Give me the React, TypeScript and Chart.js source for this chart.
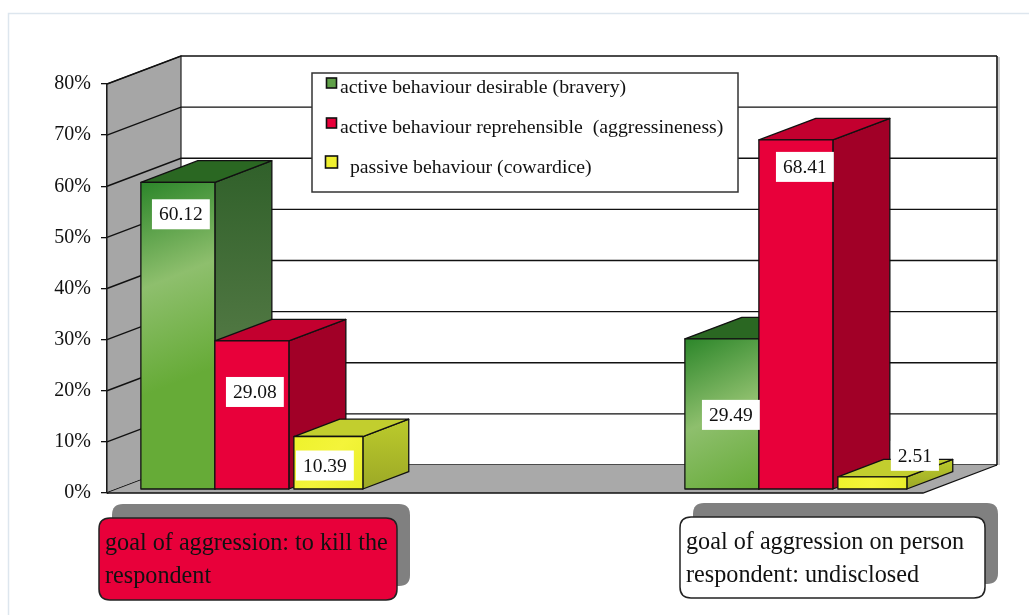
import { useEffect, useRef } from 'react';
import { Chart, registerables } from 'chart.js';

Chart.register(...registerables);

// ---------------- data ----------------
const categories = [
  'goal of aggression: to kill the respondent',
  'goal of aggression on person respondent: undisclosed',
];
const categoryLines = [
  ['goal of aggression: to kill the', 'respondent'],
  ['goal of aggression on person', 'respondent: undisclosed'],
];
const seriesNames = [
  'active behaviour desirable (bravery)',
  'active behaviour reprehensible  (aggressineness)',
  '  passive behaviour (cowardice)',
];
const bravery = [60.12, 29.49];
const aggressiveness = [29.08, 68.41];
const cowardice = [10.39, 2.51];
const yTickValues = [0, 10, 20, 30, 40, 50, 60, 70, 80];
const yTickLabels = ['0%', '10%', '20%', '30%', '40%', '50%', '60%', '70%', '80%'];

// ---------------- style ----------------
const FONT = "'Liberation Serif', 'Times New Roman', serif";
const DX = 74; // depth offset of the scene (px)
const DY = 28;
const Z0 = 0.12; // bar front depth

const barStyles = [
  {
    front: ['#2c862a', '#8ebf6d', '#66ab37'],
    side: ['#30602a', '#6b8b57'],
    top: '#2a6722',
    gap: 0,
    z1: 0.89,
  },
  {
    front: ['#e8003a', '#e8003a', '#e8003a'],
    side: ['#a10027', '#a10027'],
    top: '#c3002f',
    gap: 0,
    z1: 0.89,
  },
  {
    front: ['#eef22c', '#f4f43a', '#e8ee2a'],
    side: ['#bccb2c', '#9ca826'],
    top: '#c2ce2e',
    gap: 5,
    z1: 0.74,
  },
];
const legendColors = ['#5fa048', '#e8003a', '#f0f030'];
// label nudges (relative to bar front top centre): [dx, dy]
const labelNudge = [
  [[3, 32], [9, 76]],
  [[3, 51], [9, 27]],
  [[-1, 29], [45, -21]],
];
const catBoxes = [
  { left: 99, top: 518, w: 298, h: 82, fill: '#e8003a' },
  { left: 680, top: 517, w: 305, h: 81, fill: '#ffffff' },
];

function roundRect(ctx: CanvasRenderingContext2D, x: number, y: number, w: number, h: number, r: number) {
  ctx.beginPath();
  ctx.moveTo(x + r, y);
  ctx.lineTo(x + w - r, y);
  ctx.quadraticCurveTo(x + w, y, x + w, y + r);
  ctx.lineTo(x + w, y + h - r);
  ctx.quadraticCurveTo(x + w, y + h, x + w - r, y + h);
  ctx.lineTo(x + r, y + h);
  ctx.quadraticCurveTo(x, y + h, x, y + h - r);
  ctx.lineTo(x, y + r);
  ctx.quadraticCurveTo(x, y, x + r, y);
  ctx.closePath();
}

const scene3d = {
  id: 'scene3d',
  beforeDatasetsDraw(chart: any) {
    const { ctx, chartArea: a } = chart;
    const y = chart.scales.y;
    ctx.save();
    // page frame
    ctx.strokeStyle = '#dde6ee';
    ctx.lineWidth = 1.5;
    ctx.beginPath();
    ctx.moveTo(8.5, chart.height);
    ctx.lineTo(8.5, 13.5);
    ctx.lineTo(chart.width, 13.5);
    ctx.stroke();

    ctx.lineJoin = 'miter';
    // back wall
    ctx.fillStyle = '#ffffff';
    ctx.fillRect(a.left + DX, a.top - DY, a.right - a.left, a.bottom - a.top);
    // left wall
    ctx.beginPath();
    ctx.moveTo(a.left, a.top);
    ctx.lineTo(a.left + DX, a.top - DY);
    ctx.lineTo(a.left + DX, a.bottom - DY);
    ctx.lineTo(a.left, a.bottom);
    ctx.closePath();
    ctx.fillStyle = '#a6a6a6';
    ctx.fill();
    ctx.strokeStyle = '#222';
    ctx.lineWidth = 1.2;
    ctx.stroke();

    // gridlines
    ctx.strokeStyle = '#111';
    ctx.lineWidth = 1.4;
    y.ticks.forEach((t: any) => {
      const py = y.getPixelForValue(t.value);
      ctx.beginPath();
      ctx.moveTo(a.left, py);
      ctx.lineTo(a.left + DX, py - DY);
      ctx.lineTo(a.right + DX, py - DY);
      ctx.stroke();
    });
    // back wall right edge (with soft shadow)
    ctx.strokeStyle = '#999';
    ctx.lineWidth = 1;
    ctx.beginPath();
    ctx.moveTo(a.right + DX + 2, a.top - DY + 1);
    ctx.lineTo(a.right + DX + 2, a.bottom - DY);
    ctx.stroke();
    ctx.strokeStyle = '#111';
    ctx.lineWidth = 1.6;
    ctx.beginPath();
    ctx.moveTo(a.right + DX, a.top - DY);
    ctx.lineTo(a.right + DX, a.bottom - DY);
    ctx.stroke();

    // floor
    ctx.beginPath();
    ctx.moveTo(a.left, a.bottom);
    ctx.lineTo(a.right, a.bottom);
    ctx.lineTo(a.right + DX, a.bottom - DY);
    ctx.lineTo(a.left + DX, a.bottom - DY);
    ctx.closePath();
    ctx.fillStyle = '#a9a9a9';
    ctx.fill();
    ctx.strokeStyle = '#111';
    ctx.lineWidth = 1.3;
    ctx.beginPath();
    ctx.moveTo(a.left, a.bottom);
    ctx.lineTo(a.right, a.bottom);
    ctx.lineTo(a.right + DX, a.bottom - DY);
    ctx.stroke();

    // bars: left to right
    const fx = DX * Z0, fy = DY * Z0;
    const nIdx = categories.length;
    for (let j = 0; j < nIdx; j++) {
      chart.data.datasets.forEach((_: any, di: number) => {
        const el = chart.getDatasetMeta(di).data[j];
        if (!el) return;
        const st = barStyles[di];
        const ddx = DX * (st.z1 - Z0), ddy = DY * (st.z1 - Z0);
        const L = el.x - el.width / 2 + fx + st.gap;
        const R = el.x + el.width / 2 + fx;
        const T = el.y - fy;
        const B = el.base - fy;
        ctx.lineWidth = 1.3;
        ctx.strokeStyle = '#111';
        ctx.lineJoin = 'round';
        // side
        const sg = ctx.createLinearGradient(0, T - ddy, 0, B);
        sg.addColorStop(0, st.side[0]);
        sg.addColorStop(1, st.side[1]);
        ctx.beginPath();
        ctx.moveTo(R, T);
        ctx.lineTo(R + ddx, T - ddy);
        ctx.lineTo(R + ddx, B - ddy);
        ctx.lineTo(R, B);
        ctx.closePath();
        ctx.fillStyle = sg;
        ctx.fill();
        ctx.stroke();
        // top
        ctx.beginPath();
        ctx.moveTo(L, T);
        ctx.lineTo(R, T);
        ctx.lineTo(R + ddx, T - ddy);
        ctx.lineTo(L + ddx, T - ddy);
        ctx.closePath();
        ctx.fillStyle = st.top;
        ctx.fill();
        ctx.stroke();
        // front
        const fg = ctx.createLinearGradient(L, T, R, Math.min(B, T + (R - L) * 2.5));
        fg.addColorStop(0, st.front[0]);
        fg.addColorStop(0.5, st.front[1]);
        fg.addColorStop(1, st.front[2]);
        ctx.fillStyle = fg;
        ctx.fillRect(L, T, R - L, B - T);
        ctx.strokeRect(L, T, R - L, B - T);
      });
    }

    // value labels
    ctx.font = `19.5px ${FONT}`;
    ctx.textAlign = 'center';
    ctx.textBaseline = 'middle';
    chart.data.datasets.forEach((ds: any, di: number) => {
      chart.getDatasetMeta(di).data.forEach((el: any, j: number) => {
        const v = ds.data[j].y;
        const txt = v.toFixed(2);
        const [nx, ny] = labelNudge[di][j];
        const cx = el.x + fx + nx;
        const cy = el.y - fy + ny;
        const w = ctx.measureText(txt).width + 14;
        const h = 30;
        ctx.fillStyle = '#ffffff';
        ctx.fillRect(cx - w / 2, cy - h / 2, w, h);
        ctx.fillStyle = '#111';
        ctx.fillText(txt, cx, cy + 1);
      });
    });
    ctx.restore();
    return false;
  },
  afterDraw(chart: any) {
    const { ctx } = chart;
    ctx.save();
    // legend
    const lx = 312, ly = 73, lw = 426, lh = 119;
    ctx.fillStyle = '#fff';
    ctx.fillRect(lx, ly, lw, lh);
    ctx.strokeStyle = '#333';
    ctx.lineWidth = 1.5;
    ctx.strokeRect(lx, ly, lw, lh);
    ctx.font = `19.8px ${FONT}`;
    ctx.textAlign = 'left';
    ctx.textBaseline = 'alphabetic';
    const rows = [93, 133, 173];
    chart.data.datasets.forEach((ds: any, i: number) => {
      const big = i === 2;
      const s = big ? 12 : 10;
      const mx = big ? 325.5 : 326.5;
      const my = rows[i] - (big ? 17 : 15);
      ctx.fillStyle = legendColors[i];
      ctx.fillRect(mx, my, s, s);
      ctx.strokeStyle = '#111';
      ctx.lineWidth = 1.6;
      ctx.strokeRect(mx, my, s, s);
      ctx.fillStyle = '#111';
      ctx.fillText(ds.label, 340, rows[i]);
    });

    // category boxes
    ctx.font = `24.2px ${FONT}`;
    catBoxes.forEach((b, i) => {
      ctx.fillStyle = '#808080';
      roundRect(ctx, b.left + 13, b.top - 14, b.w, b.h, 11);
      ctx.fill();
      roundRect(ctx, b.left, b.top, b.w, b.h, 11);
      ctx.fillStyle = b.fill;
      ctx.fill();
      ctx.strokeStyle = '#222';
      ctx.lineWidth = 1.5;
      ctx.stroke();
      ctx.fillStyle = '#111';
      categoryLines[i].forEach((line, k) => {
        ctx.fillText(line, b.left + 6, b.top + 32 + k * 33);
      });
    });
    ctx.restore();
  },
};

export default function App() {
  const ref = useRef<HTMLCanvasElement | null>(null);
  useEffect(() => {
    if (!ref.current) return;
    const mk = (vals: number[]) => vals.map((v, i) => ({ x: i, y: v }));
    const chart = new Chart(ref.current, {
      type: 'bar',
      data: {
        labels: categories,
        datasets: [
          { label: seriesNames[0], data: mk(bravery), backgroundColor: legendColors[0], barThickness: 74 },
          { label: seriesNames[1], data: mk(aggressiveness), backgroundColor: legendColors[1], barThickness: 74 },
          { label: seriesNames[2], data: mk(cowardice), backgroundColor: legendColors[2], barThickness: 74 },
        ],
      } as any,
      options: {
        animation: false,
        responsive: false,
        devicePixelRatio: 1,
        layout: { padding: { left: 0, top: 84, right: 106, bottom: 122 } },
        plugins: { legend: { display: false }, tooltip: { enabled: false } },
        scales: {
          x: { type: 'linear', min: -0.25, max: 1.25, offset: false, display: false },
          y: {
            min: 0,
            max: 80,
            afterBuildTicks: (s: any) => {
              s.ticks = yTickValues.map((v) => ({ value: v }));
            },
            afterFit: (s: any) => {
              s.width = 107;
            },
            ticks: {
              callback: (_v: any, i: number) => yTickLabels[i],
              color: '#111',
              font: { family: FONT, size: 20 },
              padding: 10,
            },
            grid: { drawOnChartArea: false, drawTicks: true, tickLength: 6, color: '#111', lineWidth: 1.3 },
            border: { display: true, color: '#111', width: 1.5 },
          },
        },
      } as any,
      plugins: [scene3d],
    });
    return () => chart.destroy();
  }, []);
  return (
    <div style={{ position: 'absolute', left: 0, top: 0, width: 1029, height: 615, background: '#fff' }}>
      <canvas ref={ref} width={1029} height={615} style={{ display: 'block' }} />
    </div>
  );
}
